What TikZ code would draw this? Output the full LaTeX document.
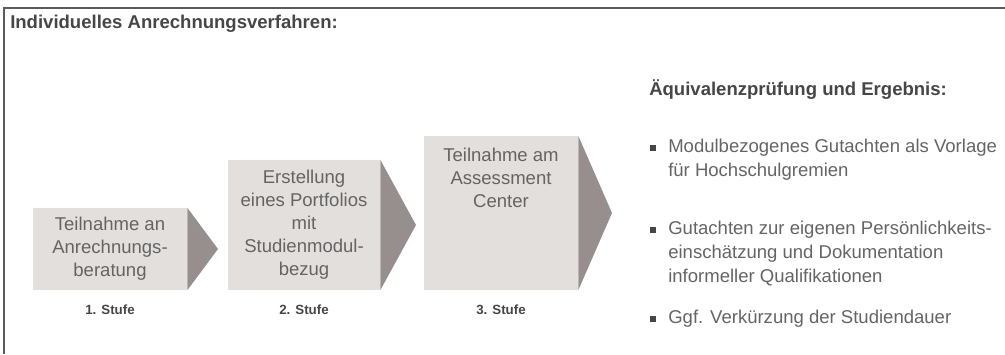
\documentclass[tikz,border=0pt]{standalone}
\usepackage{fontspec}
\setmainfont{Liberation Sans}
\usetikzlibrary{positioning}

\definecolor{boxgray}{HTML}{E3DFDD}
\definecolor{tipgray}{HTML}{968F8E}
\definecolor{textgray}{HTML}{646464}
\definecolor{headgray}{HTML}{464646}
\definecolor{framegray}{HTML}{5A5A5A}

\tikzset{
    stepbox/.style={fill=boxgray, inner sep=0pt, align=center, text=textgray,
        font=\fontsize{13.9}{17.3}\selectfont},
    steptext/.style={inner sep=0pt, align=center, text=textgray,
        font=\fontsize{13.9}{17.3}\selectfont},
    stufe/.style={inner sep=0pt, text=headgray, font=\bfseries\fontsize{10}{12}\selectfont},
    heading/.style={inner sep=0pt, anchor=base west, text=headgray,
        font=\bfseries\fontsize{13.9}{17}\selectfont},
    item/.style={inner sep=0pt, anchor=north west, align=left, text=textgray,
        font=\fontsize{13.9}{18}\selectfont},
    dot/.style={fill=headgray, inner sep=0pt, minimum size=4.2pt}
}

\begin{document}
\begin{tikzpicture}[x=0.75pt, y=-0.75pt]
    \useasboundingbox (0,0) rectangle (1005,354);

    % frame
    \draw[framegray, line width=1.1pt] (4,354) -- (4,8) -- (1005,8);

    \node[heading] (title) at (10,28) {Individuelles Anrechnungsverfahren:};

    % the three steps
    \node[stepbox, minimum width=115.5pt, minimum height=61.5pt] (b1) at (110,249)
        {Teilnahme an\\Anrechnungs-\\beratung};
        \coordinate (t1) at (218,249);
        \fill[tipgray] (b1.north east) -- (t1) -- (b1.south east) -- cycle;
    \node[stepbox, minimum width=114pt, minimum height=97.5pt] (b2) at (304,225)
        {Erstellung\\eines Portfolios\\mit\\Studienmodul-\\bezug};
        \coordinate (t2) at (416,225);
        \fill[tipgray] (b2.north east) -- (t2) -- (b2.south east) -- cycle;
    \node[stepbox, minimum width=115.5pt, minimum height=115.5pt] (b3) at (501,213) {};
        \node[steptext, anchor=north, below=9pt of b3.north] (t3txt)
            {Teilnahme am\\Assessment\\Center};
        \coordinate (t3) at (612,213);
        \fill[tipgray] (b3.north east) -- (t3) -- (b3.south east) -- cycle;

    \node[stufe, below=11pt of b1] (s1) {1. Stufe};
    \node[stufe, below=11pt of b2] (s2) {2. Stufe};
    \node[stufe, below=11pt of b3] (s3) {3. Stufe};

    % result list
    \node[heading] (res) at (649,95) {Äquivalenzprüfung und Ergebnis:};

    \node[dot] (d1) at (653,148) {};
        \node[item] (i1) at (668,138.5) {Modulbezogenes Gutachten als Vorlage\\für Hochschulgremien};
    \node[dot] (d2) at (653,230) {};
        \node[item] (i2) at (668,220.5) {Gutachten zur eigenen Persönlichkeits-\\einschätzung und Dokumentation\\informeller Qualifikationen};
    \node[dot] (d3) at (653,319) {};
        \node[item] (i3) at (668,309.5) {Ggf. Verkürzung der Studiendauer};
\end{tikzpicture}
\end{document}
